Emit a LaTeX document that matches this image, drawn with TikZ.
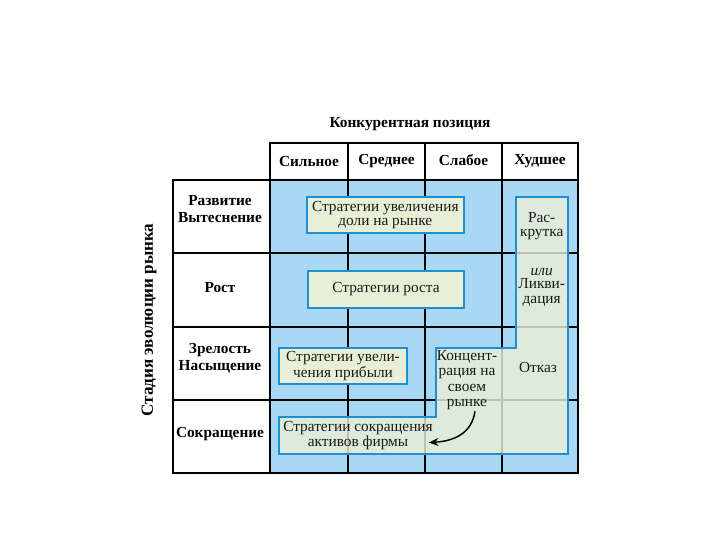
\documentclass[tikz,border=0pt]{standalone}
\usepackage{fontspec}
\setmainfont{Liberation Serif}
\usetikzlibrary{arrows.meta}
\definecolor{skyfill}{HTML}{A8D8F4}
\definecolor{boxfill}{HTML}{E9EFD7}
\definecolor{boxline}{HTML}{1E8FD3}
\definecolor{txt}{HTML}{1A1A1A}
\tikzset{
  outer/.style={line width=1.7pt, black},
  inner/.style={line width=1.3pt, black},
  hdr/.style={font=\fontsize{11.5}{12.5}\selectfont\bfseries, text=black, align=center, inner sep=0pt},
  strat/.style={draw=boxline, line width=1.5pt, fill=boxfill, font=\fontsize{11.5}{10.6}\selectfont, text=txt, align=center, inner sep=0pt},
  plain/.style={font=\fontsize{11.5}{10.6}\selectfont, text=txt, align=center, inner sep=0pt},
}
\begin{document}
\begin{tikzpicture}[x=0.75pt,y=-0.75pt]
\useasboundingbox (0,0) rectangle (720,540);
% blue area
\fill[skyfill] (270,180) rectangle (578,473);
% grid
\foreach \xx in {348,425,502} \draw[inner] (\xx,143) -- (\xx,473);
\foreach \yy in {253,327,400} \draw[inner] (173,\yy) -- (578,\yy);
\draw[outer] (270,143) rectangle (578,180);
\draw[outer] (173,180) rectangle (578,473);
\draw[outer] (270,180) -- (270,473);
% title and vertical label
\node[hdr, font=\fontsize{11.5}{12}\selectfont\bfseries] (title) at (410,124) {Конкурентная позиция};
\node[hdr, rotate=90, font=\fontsize{12.8}{13}\selectfont\bfseries] (stage) at (149,320) {Стадия эволюции рынка};
% column headers
\node[hdr] (c1) at (309,161) {Сильное};
\node[hdr] (c2) at (386.5,161) {Среднее};
\node[hdr] (c3) at (463.5,160) {Слабое};
\node[hdr] (c4) at (540,161) {Худшее};
% row labels
\node[hdr] (r1) at (220,209) {Развитие\\Вытеснение};
\node[hdr] (r2) at (220,288) {Рост};
\node[hdr] (r3) at (220,358) {Зрелость\\Насыщение};
\node[hdr] (r4) at (220,434) {Сокращение};
% big L-shaped region
\draw[draw=boxline, line width=1.5pt, fill=boxfill, fill opacity=0.82]
  (516,196.7) -- (567.7,196.7) -- (567.7,453.5) -- (279.3,453.5) -- (279.3,416.7)
  -- (435.8,416.7) -- (435.8,347.5) -- (516,347.5) -- cycle;
% strategy boxes
\node[strat, minimum width=157pt*0.75, minimum height=36pt*0.75] (b1) at (385.3,214.7) {Стратегии увеличения\\доли на рынке};
\node[strat, minimum width=156pt*0.75, minimum height=37pt*0.75] (b2) at (386,289.2) {Стратегии роста};
\node[strat, minimum width=127.4pt*0.75, minimum height=35.7pt*0.75] (b5) at (343,366.2) {Стратегии увели-\\чения прибыли};
% texts in L region
\node[plain] (rask) at (541.7,226) {Рас-\\крутка};
\node[plain] (ili) at (541.7,271.5) {\itshape или};
\node[plain] (likv) at (541.7,292.5) {Ликви-\\дация};
\node[plain] (otk) at (538,367) {Отказ};
\node[plain, font=\fontsize{11.5}{11.5}\selectfont] (konc) at (467,380) {Концент-\\рация на\\своем\\рынке};
\node[plain] (sokr) at (358,435.5) {Стратегии сокращения\\активов фирмы};
\coordinate (arrend) at (429,442.5);
\draw[line width=1.1pt, -{Stealth[length=7pt,width=6pt]}] ([xshift=6pt,yshift=-1pt]konc.south) .. controls (472,432) and (456,441) .. (arrend);
\end{tikzpicture}
\end{document}
